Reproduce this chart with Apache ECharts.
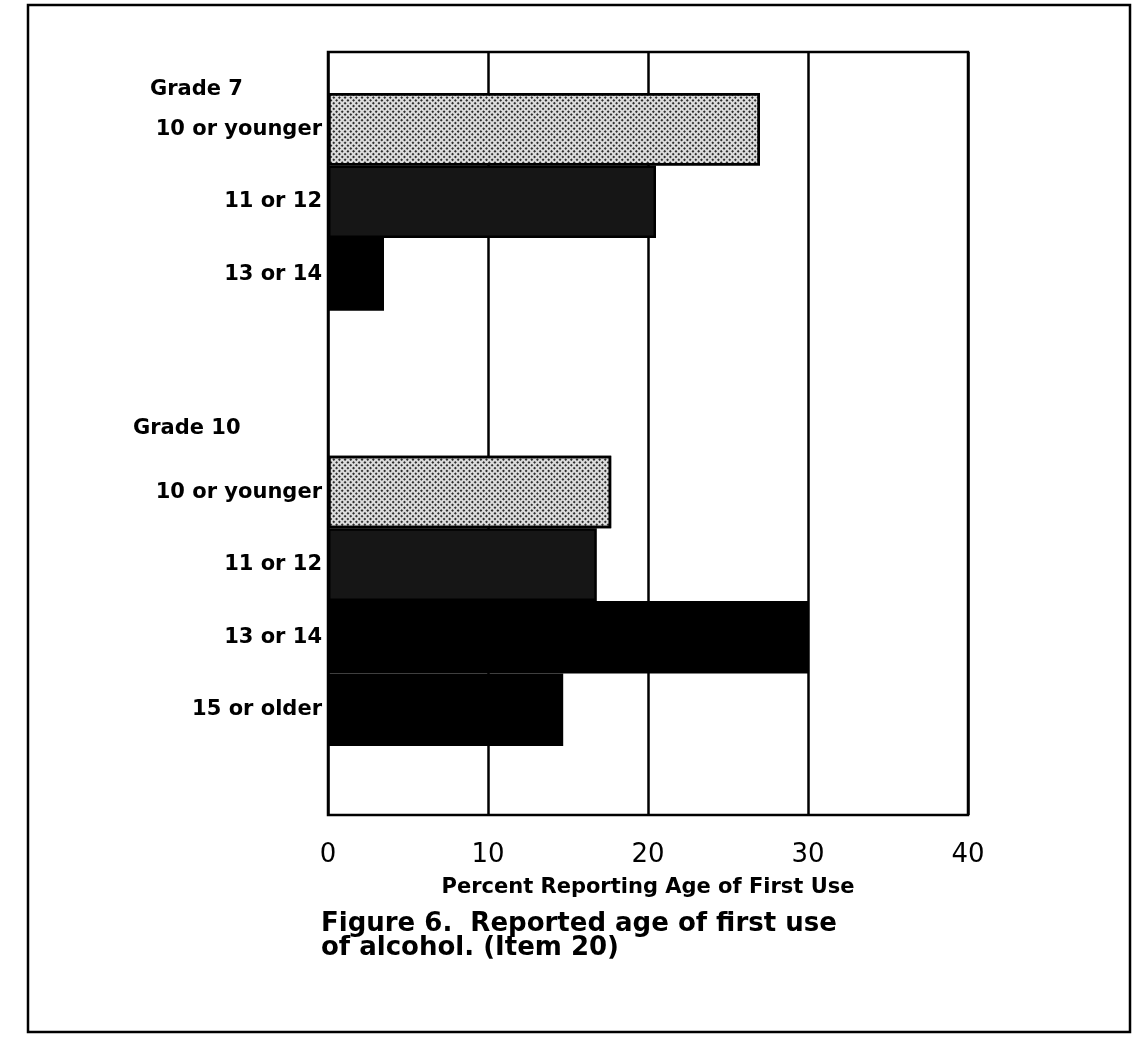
<!DOCTYPE html>
<html>
<head>
<meta charset="utf-8">
<script src="https://cdn.jsdelivr.net/npm/echarts@6/dist/echarts.min.js"></script>
<style>
  html, body { margin: 0; padding: 0; background: #fff; }
  #chart { width: 1147px; height: 1049px; }
</style>
</head>
<body>
<div id="chart"></div>
<script>
// age groups, top to bottom (two blank slots separate grade 7 from grade 10)
var ageGroups = ['10 or younger', '11 or 12', '13 or 14', '', '', '10 or younger', '11 or 12', '13 or 14', '15 or older'];
// percent reporting age of first use
var percents = [27, 20.5, 3.5, null, null, 17.7, 16.8, 30, 14.7];
var gradeHeads = ['Grade 7', 'Grade 10'];
var xTicks = [0, 10, 20, 30, 40];

// fill per age group
var fills = {
  '10 or younger': '#dcdcdc',
  '11 or 12': '#161616',
  '13 or 14': '#000',
  '15 or older': '#000'
};
// stipple texture on the light bars
var stipple = {
  symbol: 'rect',
  symbolSize: 1,
  color: 'rgba(0,0,0,0.8)',
  dashArrayX: [2, 2],
  dashArrayY: [2, 2],
  rotation: Math.PI / 4
};

var chart = echarts.init(document.getElementById('chart'));

var labelFont = '"DejaVu Sans", "Liberation Sans", sans-serif';

var option = {
  backgroundColor: '#fff',
  animation: false,
  title: {
    text: 'Figure 6.  Reported age of first use\nof alcohol. (Item 20)',
    left: 316,
    top: 907,
    textStyle: {
      fontFamily: labelFont,
      fontWeight: 'bold',
      fontSize: 26,
      lineHeight: 24,
      color: '#000'
    }
  },
  graphic: [
    {
      type: 'rect',
      shape: { x: 28, y: 5, width: 1102, height: 1027 },
      style: { fill: 'none', stroke: '#000', lineWidth: 2.5 },
      silent: true
    },
    {
      type: 'text', left: 150, top: 79,
      style: { text: gradeHeads[0], font: 'bold 21px ' + labelFont, fill: '#000' }
    },
    {
      type: 'text', left: 133, top: 418,
      style: { text: gradeHeads[1], font: 'bold 21px ' + labelFont, fill: '#000' }
    }
  ],
  grid: [
    // frame + gridlines
    { left: 328, right: 179, top: 52, bottom: 234, show: true, borderColor: '#000', borderWidth: 2.5, backgroundColor: 'transparent' },
    // bars
    { left: 328, right: 179, top: 93, bottom: 303 }
  ],
  xAxis: [
    {
      gridIndex: 0,
      type: 'value',
      min: 0,
      max: 40,
      interval: 10,
      name: 'Percent Reporting Age of First Use',
      nameLocation: 'middle',
      nameGap: 62,
      nameTextStyle: { fontFamily: labelFont, fontWeight: 'bold', fontSize: 21, color: '#000' },
      axisLine: { show: false },
      axisTick: { show: false },
      axisLabel: {
        margin: 27,
        fontFamily: labelFont,
        fontSize: 26,
        color: '#000',
        formatter: function (v) { return xTicks.indexOf(v) >= 0 ? String(v) : ''; }
      },
      splitLine: { show: true, lineStyle: { color: '#000', width: 2.5 } }
    },
    {
      gridIndex: 1,
      type: 'value',
      min: 0,
      max: 40,
      show: false
    }
  ],
  yAxis: [
    {
      gridIndex: 0,
      type: 'value',
      show: false
    },
    {
      gridIndex: 1,
      type: 'category',
      inverse: true,
      data: ageGroups.map(function (a, i) { return i + '|' + a; }),
      axisLine: { show: false },
      axisTick: { show: false },
      axisLabel: {
        margin: 6,
        fontFamily: labelFont,
        fontWeight: 'bold',
        fontSize: 21,
        color: '#000',
        formatter: function (v) { return v.split('|')[1]; }
      }
    }
  ],
  series: [
    {
      type: 'bar',
      xAxisIndex: 1,
      yAxisIndex: 1,
      barWidth: '100%',
      data: percents.map(function (p, i) {
        var g = ageGroups[i];
        var style = {
          color: fills[g] || '#000',
          borderColor: '#000',
          borderWidth: 2.5
        };
        if (g === '10 or younger') {
          style.decal = stipple;
        }
        return { value: p, itemStyle: style };
      })
    }
  ]
};

chart.setOption(option);
</script>
</body>
</html>
